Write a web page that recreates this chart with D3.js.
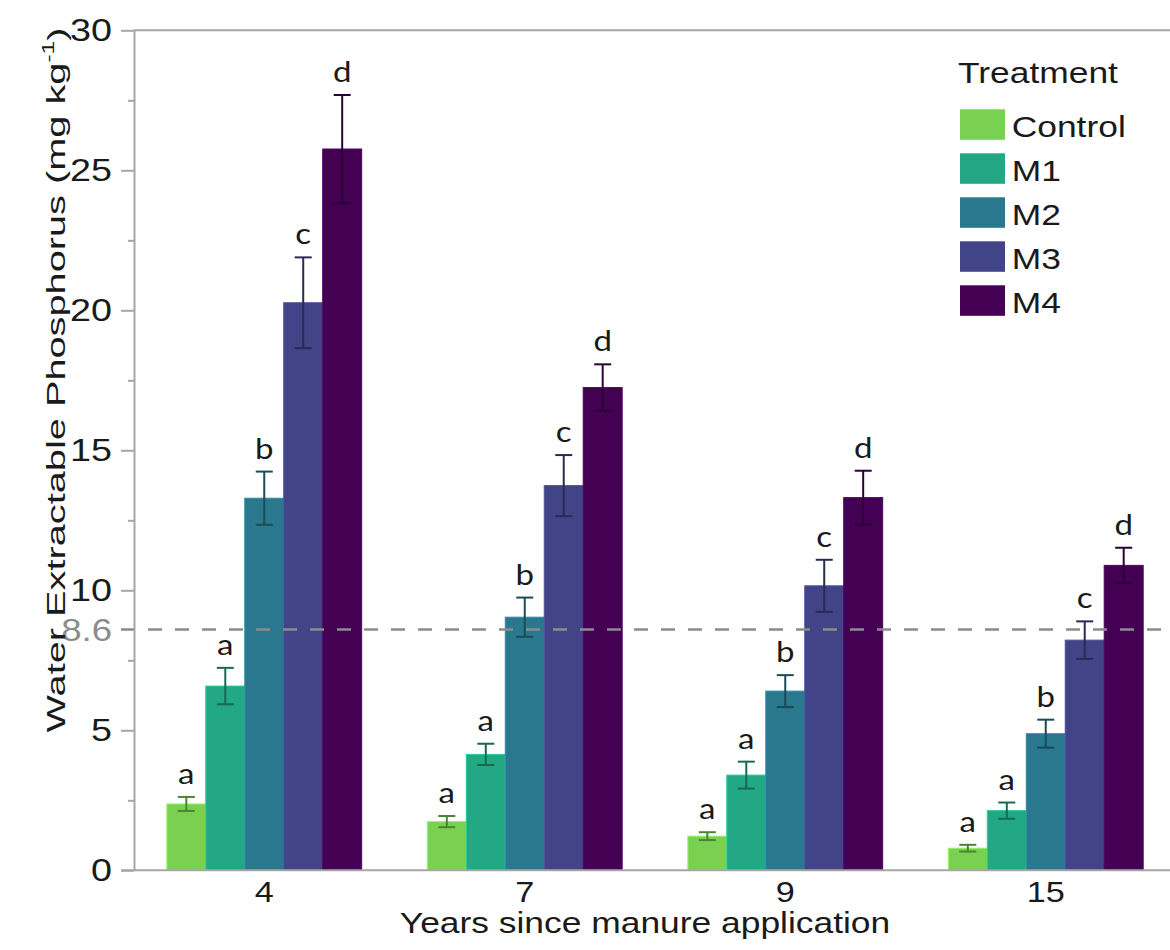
<!DOCTYPE html>
<html>
<head>
<meta charset="utf-8">
<script src="https://cdn.jsdelivr.net/npm/d3@7"></script>
<style>
  body { margin: 0; background: #fff; }
  svg { display: block; }
</style>
</head>
<body>
<div id="chart"></div>
<script>
// data
const years = ['4', '7', '9', '15'];
const treatments = ['Control', 'M1', 'M2', 'M3', 'M4'];
const colors = ['#7ad151', '#22a884', '#2a788e', '#414487', '#440154'];

const controlMean = [2.37, 1.74, 1.22, 0.79];
const m1Mean = [6.58, 4.14, 3.40, 2.13];
const m2Mean = [13.29, 9.04, 6.40, 4.88];
const m3Mean = [20.27, 13.74, 10.16, 8.22];
const m4Mean = [25.76, 17.24, 13.31, 10.89];

const controlErr = [0.25, 0.20, 0.14, 0.12];
const m1Err = [0.65, 0.38, 0.48, 0.29];
const m2Err = [0.95, 0.70, 0.57, 0.50];
const m3Err = [1.62, 1.09, 0.93, 0.67];
const m4Err = [1.93, 0.83, 0.96, 0.63];

const letters = ['a', 'a', 'b', 'c', 'd'];
const yTicks = [0, 5, 10, 15, 20, 25, 30];
const yMinorTicks = [2.5, 7.5, 12.5, 17.5, 22.5, 27.5];
const threshold = 8.6;

const means = [controlMean, m1Mean, m2Mean, m3Mean, m4Mean];
const errs = [controlErr, m1Err, m2Err, m3Err, m4Err];

const W = 1170, H = 950;
const SX = 1.18; // the picture's text is a little wider than it is tall
const font = '"Liberation Sans", Arial, sans-serif';
const axisGrey = '#a6a6a6';
const textColor = '#1a1a1a';

const svg = d3.select('#chart').append('svg').attr('width', W).attr('height', H);

const y = d3.scaleLinear().domain([0, 30]).range([870.3, 30.3]);
const x0 = d3.scaleBand().domain(years).range([134, 1176]).paddingInner(0.252).paddingOuter(0.126);
const x1 = d3.scaleBand().domain(treatments).range([0, x0.bandwidth()]);

// rows of bars
const rows = [];
treatments.forEach((t, i) => {
  years.forEach((yr, j) => {
    rows.push({ year: yr, treatment: t, color: colors[i], value: means[i][j], err: errs[i][j], letter: letters[i] });
  });
});

function stretchedText(parent, x, yy, str, size, anchor, fill, family) {
  const g = parent.append('g').attr('transform', `translate(${x},${yy})`);
  return g.append('text')
    .attr('transform', `scale(${SX},1)`)
    .attr('text-anchor', anchor)
    .attr('font-family', family || font)
    .attr('font-size', size)
    .attr('fill', fill || textColor)
    .text(str);
}

// top frame line
svg.append('line')
  .attr('x1', 134).attr('x2', W)
  .attr('y1', y(30)).attr('y2', y(30))
  .attr('stroke', axisGrey).attr('stroke-width', 2);

// bars
svg.append('g')
  .selectAll('rect')
  .data(rows)
  .join('rect')
  .attr('x', d => x0(d.year) + x1(d.treatment))
  .attr('y', d => y(d.value))
  .attr('width', x1.bandwidth())
  .attr('height', d => y(0) - y(d.value))
  .attr('fill', d => d.color)
  .attr('stroke', d => d3.color(d.color).brighter(0.5))
  .attr('stroke-width', 1);

// threshold line
svg.append('line')
  .attr('x1', 121).attr('x2', W)
  .attr('y1', y(threshold)).attr('y2', y(threshold))
  .attr('stroke', '#8c8c8c').attr('stroke-width', 2.5)
  .attr('stroke-dasharray', '14 13');

// error bars
const capW = 17;
const cx = d => x0(d.year) + x1(d.treatment) + x1.bandwidth() / 2;
const eb = svg.append('g').selectAll('g').data(rows).join('g')
  .attr('stroke', d => d3.color(d.color).darker(1.3))
  .attr('stroke-width', 2);
eb.append('line')
  .attr('x1', cx).attr('x2', cx)
  .attr('y1', d => y(d.value + d.err))
  .attr('y2', d => y(d.value - d.err));
eb.append('line')
  .attr('x1', d => cx(d) - capW / 2).attr('x2', d => cx(d) + capW / 2)
  .attr('y1', d => y(d.value + d.err)).attr('y2', d => y(d.value + d.err));
eb.append('line')
  .attr('x1', d => cx(d) - capW / 2).attr('x2', d => cx(d) + capW / 2)
  .attr('y1', d => y(d.value - d.err)).attr('y2', d => y(d.value - d.err));

// significance letters
const lettersG = svg.append('g');
rows.forEach(d => {
  stretchedText(lettersG, cx(d), y(d.value + d.err) - 13,
    d.letter, 28, 'middle', textColor, 'Lato, "Open Sans", sans-serif');
});

// y axis
const gy = svg.append('g').attr('transform', 'translate(134,0)')
  .call(d3.axisLeft(y).tickValues(yTicks).tickSize(13).tickSizeOuter(0).tickPadding(5.6));
gy.selectAll('text')
  .attr('transform', `scale(${SX},1)`)
  .attr('font-family', font).attr('font-size', 32).attr('fill', textColor);
svg.append('g').attr('transform', 'translate(134,0)')
  .call(d3.axisLeft(y).tickValues(yMinorTicks).tickSize(6).tickSizeOuter(0).tickFormat(''))
  .call(g => g.select('.domain').remove());
svg.selectAll('.tick line').attr('stroke', axisGrey).attr('stroke-width', 2);
gy.select('.domain').attr('stroke', axisGrey).attr('stroke-width', 2);

// threshold label
stretchedText(svg, 112, y(threshold) + 11, '8.6', 31, 'end', '#8c8c8c');

// x axis
const gx = svg.append('g').attr('transform', `translate(0,${y(0)})`)
  .call(d3.axisBottom(x0).tickSize(0).tickPadding(11));
gx.select('.domain').attr('stroke', axisGrey).attr('stroke-width', 2).attr('d', `M121,0H${W}`);
gx.selectAll('text')
  .attr('transform', `scale(${SX},1)`)
  .attr('font-family', font).attr('font-size', 29).attr('fill', textColor);

// axis titles
stretchedText(svg, 645, 933, 'Years since manure application', 30, 'middle');

const yTitleG = svg.append('g').attr('transform', 'translate(56,380) rotate(-90)');
const yTitle = yTitleG.append('text')
  .attr('text-anchor', 'middle')
  .attr('dy', '0.35em')
  .attr('font-family', font)
  .attr('font-size', 26)
  .attr('fill', textColor);
yTitle.append('tspan').text('Water Extractable Phosphorus (mg kg');
yTitle.append('tspan').attr('font-size', 16).attr('dy', '-0.7em').text('-1');
yTitle.append('tspan').attr('dy', '0.45em').text(')');
const natural = yTitle.node().getBBox().width;
yTitle.attr('transform', `scale(${705 / natural},1)`);

// legend
const legend = svg.append('g');
stretchedText(legend, 958, 83.3, 'Treatment', 30, 'start');
treatments.forEach((t, i) => {
  const top = 109.3 + i * 44;
  legend.append('rect')
    .attr('x', 960).attr('y', top)
    .attr('width', 45).attr('height', 30.5)
    .attr('fill', colors[i]);
  stretchedText(legend, 1011.7, top + 27.5, t, 30, 'start');
});
</script>
</body>
</html>
